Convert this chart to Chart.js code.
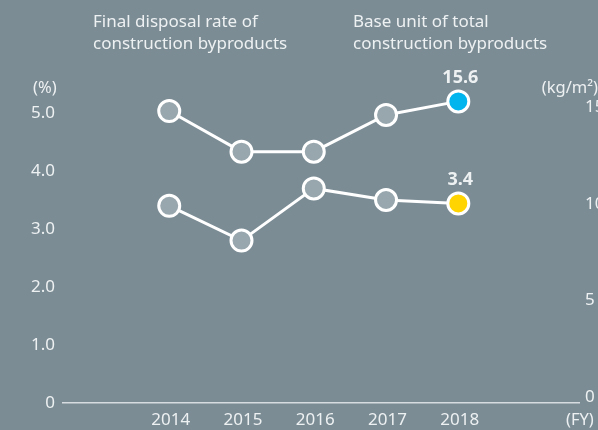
<!DOCTYPE html>
<html><head><meta charset="utf-8">
<script src="https://cdn.jsdelivr.net/npm/chart.js@4.4.1/dist/chart.umd.min.js"></script>
<style>html,body{margin:0;padding:0;background:#7b8c95;overflow:hidden;}canvas{display:block;}</style>
</head><body>
<canvas id="c" width="598" height="430"></canvas>
<script>
// ---- data ----
const years = ['2014', '2015', '2016', '2017', '2018'];
const baseUnit = [15.1, 13.0, 13.0, 14.9, 15.6];      // kg/m², right axis
const disposalRate = [3.4, 2.8, 3.7, 3.5, 3.44];     // %, left axis
const leftTicks = [0, 1, 2, 3, 4, 5];
const leftTickLabels = ['0', '1.0', '2.0', '3.0', '4.0', '5.0'];
const rightTicks = [0, 5, 10, 15];
const rightTickLabels = ['0', '5', '10', '15'];
const titleRate = ['Final disposal rate of', 'construction byproducts'];
const titleBase = ['Base unit of total', 'construction byproducts'];
const unitLeft = '(%)';
const unitRight = '(kg/m²)';
const unitX = '(FY)';

// ---- style ----
const TXT = '#eef1f2';
const FONT = '"Noto Sans", "Open Sans", sans-serif';
const PT_FILL = '#98a7ad';
const BLUE = '#00b4ee';
const YELLOW = '#ffd400';

const lastIdx = years.length - 1;
const toPts = arr => arr.map((v, i) => ({ x: Number(years[i]), y: v }));

const textPlugin = {
  id: 'texts',
  afterDraw(chart) {
    const ctx = chart.ctx;
    ctx.save();
    ctx.fillStyle = TXT;
    ctx.font = '17px ' + FONT;
    ctx.textAlign = 'left';
    ctx.textBaseline = 'alphabetic';
    titleRate.forEach((t, i) => ctx.fillText(t, 93, 27 + i * 21.5));
    titleBase.forEach((t, i) => ctx.fillText(t, 353, 27 + i * 21.5));
    ctx.textBaseline = 'middle';
    ctx.font = '16.5px ' + FONT;
    ctx.fillText(unitLeft, 33, 88);
    ctx.fillText(unitX, 566, 420);
    ctx.textAlign = 'right';
    ctx.fillText(unitRight, 598, 88);
    // data labels for latest values
    ctx.font = 'bold 18px ' + FONT;
    ctx.textAlign = 'center';
    chart.data.datasets.forEach((ds, di) => {
      const el = chart.getDatasetMeta(di).data[lastIdx];
      ctx.fillText(ds.data[lastIdx].y.toFixed(1), el.x + 2, el.y - 24);
    });
    ctx.restore();
  }
};

const commonDs = {
  borderColor: '#ffffff',
  borderWidth: 3,
  pointRadius: 10.5,
  pointHoverRadius: 10.5,
  pointBorderWidth: 3,
  pointBorderColor: '#ffffff',
  tension: 0
};

new Chart(document.getElementById('c'), {
  type: 'line',
  data: {
    datasets: [
      Object.assign({
        label: 'Base unit of total construction byproducts',
        data: toPts(baseUnit),
        yAxisID: 'yR',
        pointBackgroundColor: ctx => ctx.dataIndex === lastIdx ? BLUE : PT_FILL
      }, commonDs),
      Object.assign({
        label: 'Final disposal rate of construction byproducts',
        data: toPts(disposalRate),
        yAxisID: 'yL',
        pointBackgroundColor: ctx => ctx.dataIndex === lastIdx ? YELLOW : PT_FILL
      }, commonDs)
    ]
  },
  options: {
    responsive: false,
    animation: false,
    events: [],
    layout: { padding: { top: 55, left: 0, right: 0, bottom: 0 } },
    plugins: { legend: { display: false }, tooltip: { enabled: false } },
    scales: {
      x: {
        type: 'linear',
        min: 2012.53,
        max: 2019.67,
        afterBuildTicks: s => { s.ticks = years.map(y => ({ value: Number(y) })); },
        afterFit: s => { s.height = 27; },
        grid: { display: false, drawTicks: false },
        border: { display: true, color: '#d6dcdf', width: 1.6 },
        ticks: {
          padding: 7,
          labelOffset: 1.5,
          color: TXT,
          font: { family: FONT, size: 17 },
          callback: v => years.find(y => Number(y) === v) || ''
        }
      },
      yL: {
        position: 'left',
        min: 0,
        max: 6,
        afterBuildTicks: s => { s.ticks = leftTicks.map(v => ({ value: v })); },
        afterFit: s => { s.width = 63; },
        grid: { display: false, drawTicks: false },
        border: { display: false },
        ticks: {
          padding: 8,
          labelOffset: 0,
          color: TXT,
          font: { family: FONT, size: 17 },
          callback: v => leftTickLabels[leftTicks.indexOf(v)]
        }
      },
      yR: {
        position: 'right',
        min: 0,
        max: 18,
        afterBuildTicks: s => { s.ticks = rightTicks.map(v => ({ value: v })); },
        afterFit: s => { s.width = 19; },
        grid: { display: false, drawTicks: false },
        border: { display: false },
        ticks: {
          padding: 6,
          labelOffset: -6,
          color: TXT,
          font: { family: FONT, size: 17 },
          callback: v => rightTickLabels[rightTicks.indexOf(v)]
        }
      }
    }
  },
  plugins: [textPlugin]
});
</script>
</body></html>
